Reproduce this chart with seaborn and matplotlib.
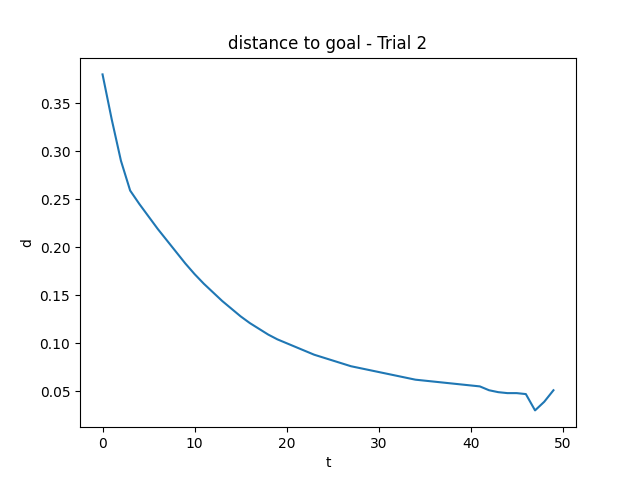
import matplotlib
matplotlib.use("Agg")
import matplotlib.pyplot as plt
import seaborn as sns
import pandas as pd

t = list(range(50))
d = [0.380, 0.333, 0.290, 0.259, 0.245, 0.232, 0.219, 0.207, 0.195, 0.183,
     0.172, 0.162, 0.153, 0.144, 0.136, 0.128, 0.121, 0.115, 0.109, 0.104,
     0.100, 0.096, 0.092, 0.088, 0.085, 0.082, 0.079, 0.076, 0.074, 0.072,
     0.070, 0.068, 0.066, 0.064, 0.062, 0.061, 0.060, 0.059, 0.058, 0.057,
     0.056, 0.055, 0.051, 0.049, 0.048, 0.048, 0.047, 0.030, 0.039, 0.051]

df = pd.DataFrame({"t": t, "d": d})

fig, ax = plt.subplots(figsize=(6.4, 4.8), dpi=100)
sns.lineplot(data=df, x="t", y="d", ax=ax, color="#1f77b4")
ax.set_title("distance to goal - Trial 2")
ax.set_xlabel("t")
ax.set_ylabel("d")
plt.savefig("out.png")
